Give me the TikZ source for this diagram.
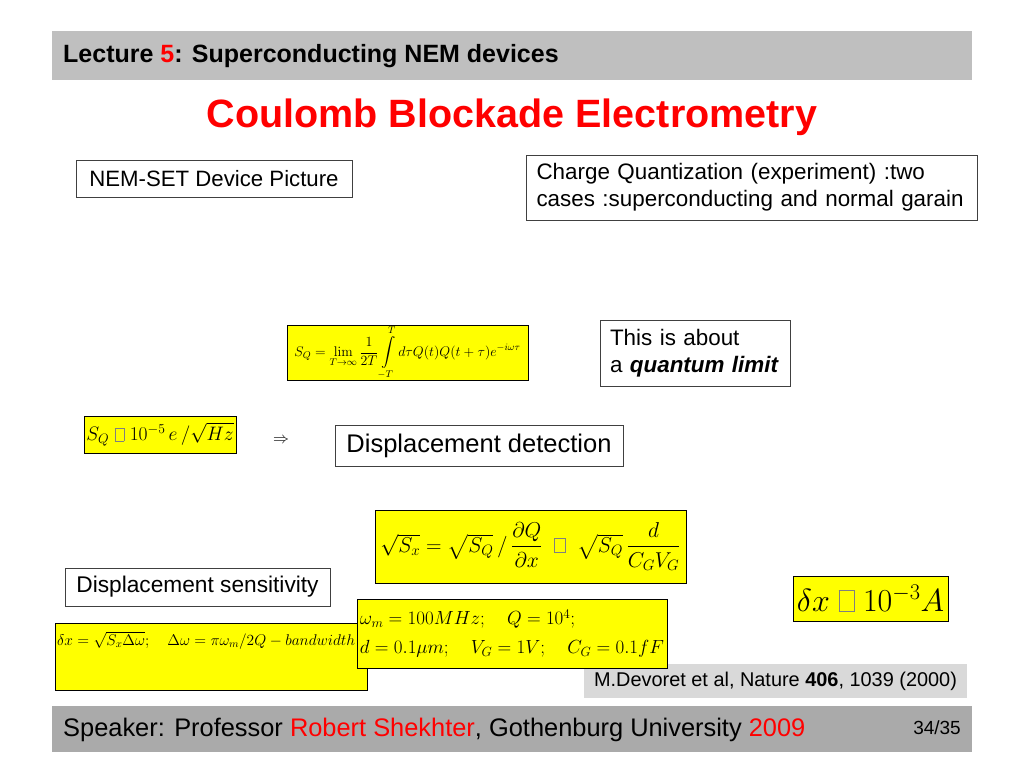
\documentclass[tikz,border=0pt]{standalone}
\usepackage{fix-cm}
\usepackage{amsmath}
\usepackage[no-math]{fontspec}
\setmainfont{Liberation Sans}
\usepackage{tikz}
\usepackage{xcolor}
\usetikzlibrary{positioning}

\definecolor{barcol}{RGB}{191,191,191}
\definecolor{footcol}{RGB}{170,170,170}
\definecolor{citecol}{RGB}{217,217,217}
\definecolor{eqyellow}{RGB}{255,255,0}
\definecolor{slidered}{RGB}{255,0,0}
\newcommand{\nobox}{\mathrel{\textcolor{gray}{\setlength{\fboxsep}{0pt}\setlength{\fboxrule}{0.5pt}\fbox{\rule{0pt}{0.65em}\hspace{0.45em}}}}}
\newcommand{\fs}[2]{\fontsize{#1}{#2}\selectfont}

\begin{document}
\begin{tikzpicture}[x=1pt,y=-1pt,
  textbox/.style={draw=black!75,line width=0.8pt,inner sep=0pt,align=left},
  eqbox/.style={draw=black,fill=eqyellow,line width=0.8pt,inner sep=0pt},
  bar/.style={anchor=west,inner sep=0pt}]
  \useasboundingbox[fill=white] (0,0) rectangle (1024,768);

  % header and footer
  \fill[barcol] (52,31) rectangle (972,80);
  \node[bar,font=\fs{25}{30}\bfseries] (head) at (63,56) {Lecture \textcolor{slidered}{5}: Superconducting NEM devices};
  \node[inner sep=0pt,text=slidered,font=\fs{39.5}{46}\bfseries] (title) at (512,117) {Coulomb Blockade Electrometry};
  \fill[footcol] (52,706) rectangle (972,752);
  \node[bar,font=\fs{25.4}{30}] (speaker) at (63,730) {Speaker: Professor \textcolor{slidered}{Robert Shekhter}, Gothenburg University \textcolor{slidered}{2009}};
  \node[anchor=east,inner sep=0pt,font=\fs{19}{22}] (page) at (961,728) {34/35};

  % text boxes
  \node[textbox,minimum width=276,minimum height=37,font=\fs{22.2}{27}] (device) at (214,178.5) {NEM-SET Device Picture};
  \node[textbox,minimum width=451,minimum height=65,text width=430,font=\fs{22.4}{27}] (charge) at (751.5,187.5)
    {Charge Quantization (experiment) :two\\cases :superconducting and normal garain};
  \node[textbox,minimum width=190,minimum height=66,text width=170,font=\fs{22.4}{27}] (limit) at (695,353)
    {This is about\\a \textbf{\itshape quantum limit}};
  \node[textbox,minimum width=288,minimum height=41,font=\fs{25.5}{30}] (detect) at (479,445.5) {Displacement detection};
  \node[textbox,minimum width=265,minimum height=38,font=\fs{22.7}{27}] (sens) at (197.5,587) {Displacement sensitivity};
  \node[fill=citecol,minimum width=383,minimum height=34,inner sep=0pt,font=\fs{19.9}{24}] (cite) at (775.5,681)
    {M.Devoret et al, Nature \textbf{406}, 1039 (2000)};

  % formulas
  \node[eqbox,minimum width=241,minimum height=52,font=\fs{14}{17}] (spec) at (407.5,353)
    {$\displaystyle S_Q=\lim_{T\to\infty}\frac{1}{2T}\int\limits_{-T}^{T}d\tau Q(t)Q(t+\tau)e^{-i\omega\tau}$};
  \node[eqbox,minimum width=152,minimum height=37,font=\fs{19.5}{24}] (noise) at (160,434.5)
    {$S_Q\nobox 10^{-5}\,e\,/\sqrt{Hz}$};
  \node[inner sep=0pt,font=\fs{16}{19}] (implies) at (281,441) {$\Rightarrow$};
  \node[eqbox,minimum width=311,minimum height=73,font=\fs{21.5}{26}] (sx) at (530.5,546.5)
    {$\sqrt{S_x}=\sqrt{S_Q}\,/\,\dfrac{\partial Q}{\partial x}\ \nobox\ \sqrt{S_Q}\,\dfrac{d}{C_GV_G}$};
  \node[eqbox,minimum width=312,minimum height=67] (dxbox) at (211,656.5) {};
  \node[anchor=base west,inner sep=0pt,font=\fs{15.5}{19}] (dx) at (57,645)
    {$\delta x=\sqrt{S_x\Delta\omega};\quad\Delta\omega=\pi\omega_m/2Q-bandwidth$};
  \node[eqbox,minimum width=310,minimum height=69,align=left,font=\fs{19}{29}] (params) at (512,633.5)
    {$\omega_m=100MHz;\quad Q=10^4;$\\$d=0.1\mu m;\quad V_G=1V;\quad C_G=0.1fF$};
  \node[eqbox,minimum width=155,minimum height=45,font=\fs{32}{38}] (result) at (870.5,598.5)
    {$\delta x\nobox 10^{-3}A$};
\end{tikzpicture}
\end{document}
